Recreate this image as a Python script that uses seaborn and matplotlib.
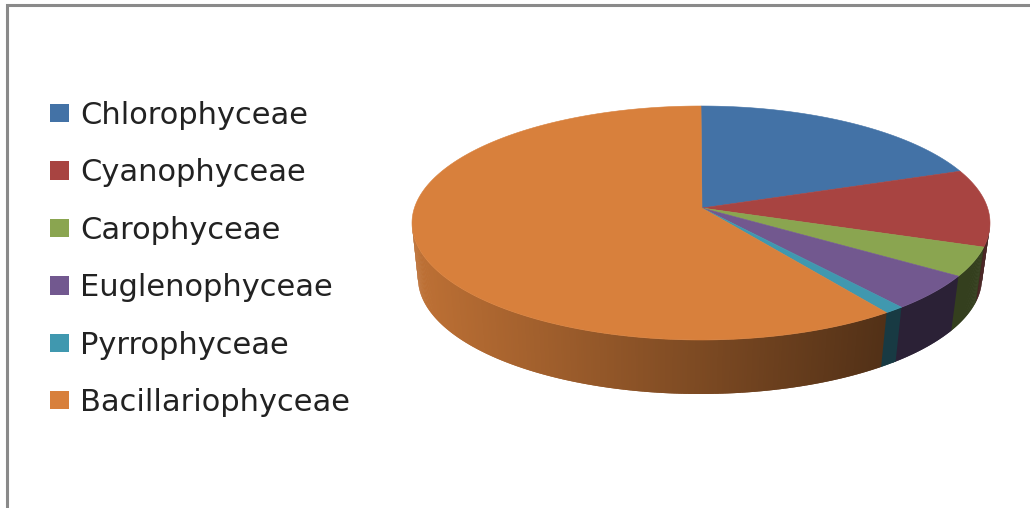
import numpy as np
import matplotlib
matplotlib.use('Agg')
import matplotlib.pyplot as plt
from matplotlib.patches import Patch
import seaborn as sns

## data (percent)
classes = ['Chlorophyceae', 'Cyanophyceae', 'Carophyceae', 'Euglenophyceae', 'Pyrrophyceae', 'Bacillariophyceae']
shares = [17.7, 10.6, 4.2, 5.3, 1.1, 61.1]
colours = ['#4372a6', '#a84441', '#8aa550', '#72588f', '#4098af', '#d8803c']

sns.set_theme(style='white')
plt.rcParams['font.family'] = ['DejaVu Sans']

fig = plt.figure(figsize=(10.3, 5.08), dpi=100)
ax = fig.add_axes([0, 0, 1, 1])

# let pie work out the slice angles, then redraw them tilted with a wall
wedges, _ = ax.pie(shares, colors=colours, startangle=90, counterclock=False)
angles = [(w.theta1, w.theta2) for w in wedges]
for w in wedges:
    w.remove()
ax.set_aspect('auto')
ax.set_xlim(0, 1030)
ax.set_ylim(508, 0)
ax.axis('off')

# ellipses in pixels: top face, bottom face, apex of the slices
top_c, top_r = (701, 223), (289, 117)
bot_c, bot_r = (700, 278), (282, 116)
apex = (702, 208)


def on_ellipse(centre, radii, t):
    t = np.radians(t)
    return centre[0] + radii[0] * np.cos(t), centre[1] - radii[1] * np.sin(t)


def shade(colour, x):
    f = np.interp(x, [412, 885], [0.88, 0.38])
    return tuple(c * f for c in matplotlib.colors.to_rgb(colour))


# side wall, only the front part shows
# each strip overlaps the next one so no white seams come through
step = 0.5
for (t1, t2), colour in zip(angles, colours):
    t1 = t1 % 360
    t2 = t2 % 360
    if t2 <= t1:
        t2 += 360
    for hi in np.arange(t2, t1, -step):
        lo = hi - step * 2
        if np.sin(np.radians(hi)) > 0 or np.sin(np.radians(lo)) > 0:
            lo = max(lo, 180)
            if hi <= 180 or (hi % 360) < 180:
                continue
        xa, ya = on_ellipse(top_c, top_r, lo)
        xb, yb = on_ellipse(top_c, top_r, hi)
        xc, yc = on_ellipse(bot_c, bot_r, hi)
        xd, yd = on_ellipse(bot_c, bot_r, lo)
        ax.fill([xa, xb, xc, xd], [ya, yb, yc, yd], color=shade(colour, (xa + xb) / 2), lw=0, zorder=2)

# top face
for (t1, t2), colour in zip(angles, colours):
    arc = np.linspace(t1, t2, 300)
    xs, ys = on_ellipse(top_c, top_r, arc)
    ax.fill(np.r_[apex[0], xs], np.r_[apex[1], ys], color=colour, lw=0.4, zorder=3)

# frame of the chart, cut off at right and bottom
ax.plot([7, 7, 1030], [508, 5, 5], color='#8a8a8a', lw=2.2, solid_joinstyle='miter', zorder=1)

handles = [Patch(facecolor=c, edgecolor='none') for c in colours]
ax.legend(handles, classes, loc='upper left', bbox_to_anchor=(50 / 1030, 1 - 101 / 508),
          frameon=False, fontsize=22, labelcolor='#222222', borderpad=0, borderaxespad=0,
          handlelength=0.63, handleheight=0.55, handletextpad=0.36, labelspacing=0.93)

fig.savefig('out.png', dpi=100)
